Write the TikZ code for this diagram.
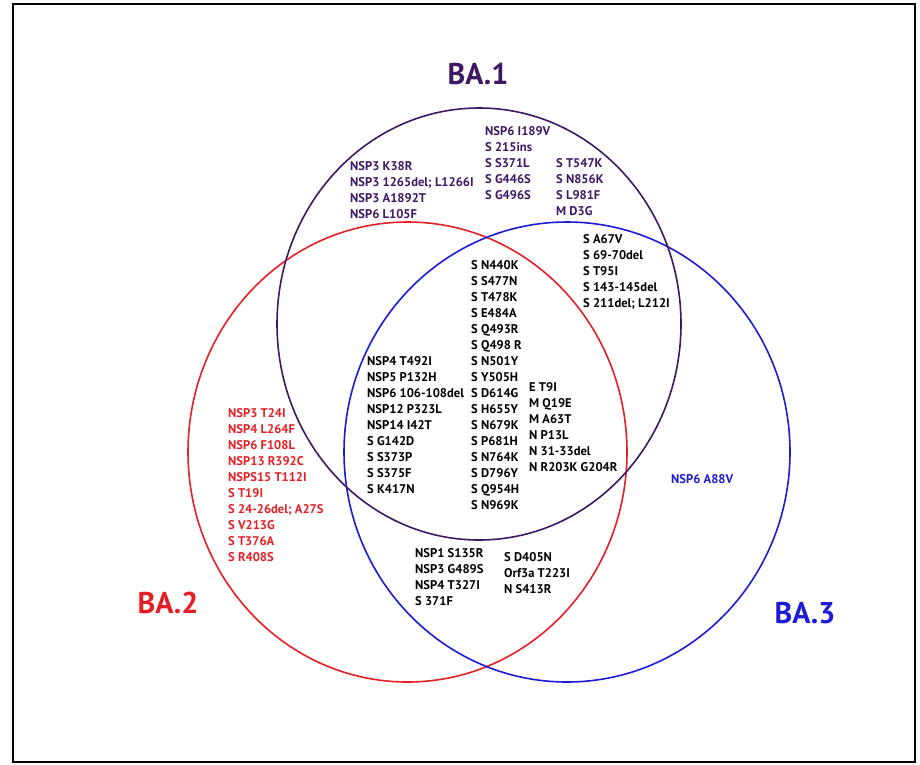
\documentclass[tikz,border=0pt]{standalone}
\usepackage{fontspec}
\setmainfont{PT Sans}
\definecolor{bapurple}{RGB}{62,24,98}
\definecolor{bared}{RGB}{228,32,38}
\definecolor{bablue}{RGB}{28,28,214}
\tikzset{
  lst/.style={anchor=north west, inner sep=0pt, align=left,
    font=\fontsize{12.6}{16}\selectfont\bfseries},
  lbl/.style={inner sep=0pt, font=\fontsize{30}{32}\selectfont\bfseries},
  venn/.style={line width=1.6pt}
}
\newcommand\fl{\rule{0pt}{9pt}}
\begin{document}
\begin{tikzpicture}[x=1pt,y=-1pt]
\useasboundingbox (0,0) rectangle (920,764);
\fill[white] (0,0) rectangle (920,764);
\draw[line width=2.4pt] (13,4) rectangle (915,762);
% ellipses
\draw[venn, bared] (407.5,452) ellipse [x radius=219.5, y radius=230];
\draw[venn, bablue] (567,452) ellipse [x radius=223, y radius=230];
\draw[venn, bapurple] (479,324) ellipse [x radius=202, y radius=216];
% labels
\node[lbl, text=bapurple] (ba1) at (478,74) {BA.1};
\node[lbl, text=bared] (ba2) at (168,603) {BA.2};
\node[lbl, text=bablue] (ba3) at (805,613) {BA.3};
% purple lists
\node[lst, text=bapurple] (pa) at (350,161.2) {\fl NSP3 K38R\\NSP3 1265del; L1266I\\NSP3 A1892T\\NSP6 L105F};
\node[lst, text=bapurple] (pb) at (485,126.2) {\fl NSP6 I189V\\S 215ins\\S S371L\\S G446S\\S G496S};
\node[lst, text=bapurple] (pc) at (556,158.2) {\fl S T547K\\S N856K\\S L981F\\M D3G};
% black lists
\node[lst] (d) at (583,234.2) {\fl S A67V\\S 69-70del\\S T95I\\S 143-145del\\S 211del; L212I};
\node[lst] (e) at (471,260.2) {\fl S N440K\\S S477N\\S T478K\\S E484A\\S Q493R\\S Q498 R\\S N501Y\\S Y505H\\S D614G\\S H655Y\\S N679K\\S P681H\\S N764K\\S D796Y\\S Q954H\\S N969K};
\node[lst] (f) at (367,356.2) {\fl NSP4 T492I\\NSP5 P132H\\NSP6 106-108del\\NSP12 P323L\\NSP14 I42T\\S G142D\\S S373P\\S S375F\\S K417N};
\node[lst] (g) at (529,382.2) {\fl E T9I\\M Q19E\\M A63T\\N P13L\\N 31-33del\\N R203K G204R};
\node[lst] (h) at (415,548.2) {\fl NSP1 S135R\\NSP3 G489S\\NSP4 T327I\\S 371F};
\node[lst] (i) at (504,552.2) {\fl S D405N\\Orf3a T223I\\N S413R};
% red list
\node[lst, text=bared] (j) at (228,408.2) {\fl NSP3 T24I\\NSP4 L264F\\NSP6 F108L\\NSP13 R392C\\NSPS15 T112I\\S T19I\\S 24-26del; A27S\\S V213G\\S T376A\\S R408S};
% blue
\node[lst, text=bablue] (k) at (671,474.2) {\fl NSP6 A88V};
\end{tikzpicture}
\end{document}
